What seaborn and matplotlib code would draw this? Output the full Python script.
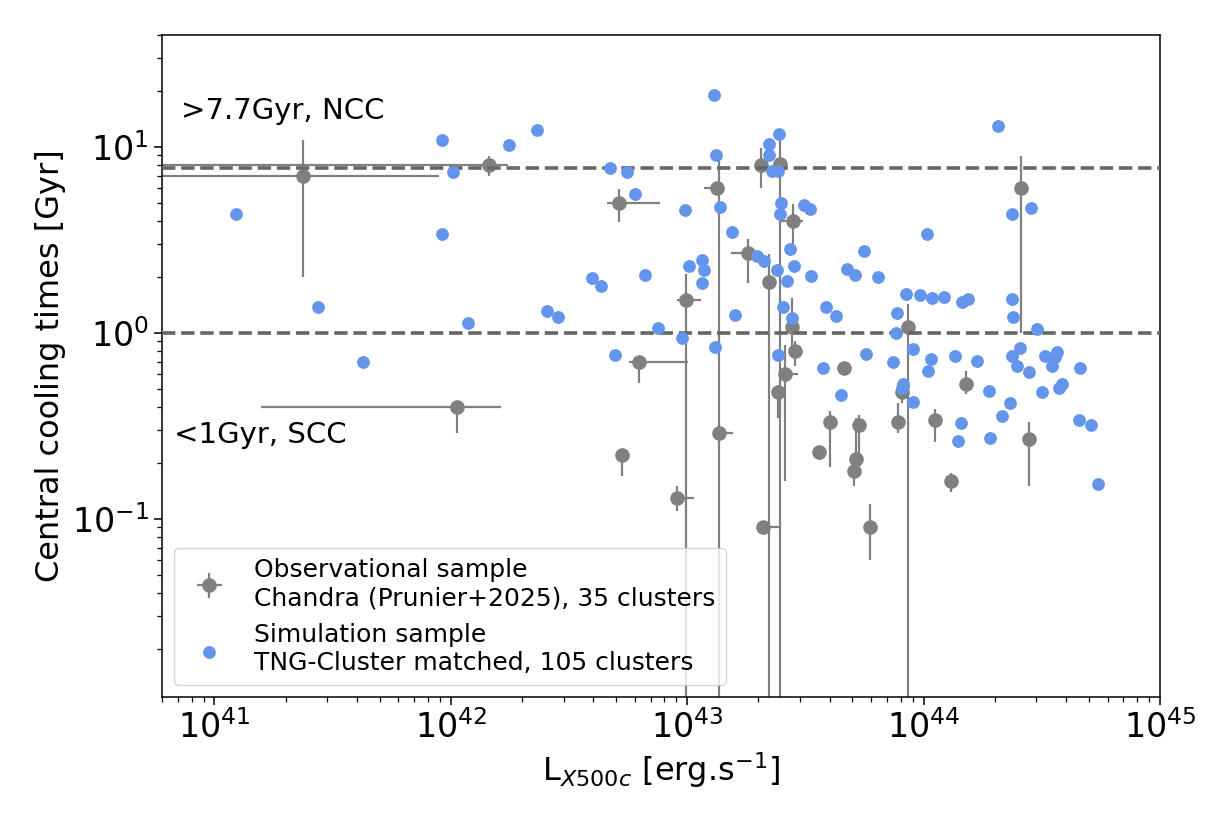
import numpy as np
import pandas as pd
import matplotlib
matplotlib.use("Agg")
import matplotlib.pyplot as plt
import seaborn as sns

# Observational sample (Chandra): L_X500c in 1e42 erg/s, cooling time in Gyr
# errors are given as lower / upper bounds (0 = bound below the plot)
obs_L = [0.237, 1.45, 1.06, 5.15, 5.28, 6.27, 9.07, 9.84, 13.6, 13.4, 18.1, 20.6,
         24.8, 22.1, 21.0, 28.1, 27.7, 28.6, 25.9, 24.1, 45.9, 40.0, 36.2, 53.2,
         51.7, 50.7, 59.3, 77.6, 86.1, 80.9, 112, 131, 151, 279, 258]
obs_L_lo = [0, 0, 0.158, 4.6, 5.28, 5.7, 8.8, 9.06, 13.6, 11.8, 15.3, 20.6,
            24.8, 22.1, 21.0, 25.0, 27.7, 28.6, 25.9, 24.1, 45.9, 40.0, 36.2, 53.2,
            51.7, 50.7, 59.3, 77.6, 86.1, 80.9, 112, 131, 151, 279, 258]
obs_L_hi = [0.89, 1.74, 1.63, 7.67, 5.28, 10.1, 10.7, 11.4, 15.6, 13.4, 19.2, 20.6,
            24.8, 22.1, 24.6, 30.9, 27.7, 28.6, 29.4, 24.1, 45.9, 40.0, 36.2, 53.2,
            51.7, 50.7, 59.3, 77.6, 86.1, 80.9, 112, 131, 151, 279, 258]
obs_t = [6.98, 7.97, 0.40, 4.98, 0.22, 0.70, 0.13, 1.50, 0.29, 6.0, 2.68, 7.97,
         8.07, 1.88, 0.09, 3.98, 1.07, 0.80, 0.60, 0.48, 0.65, 0.33, 0.23, 0.32,
         0.21, 0.18, 0.09, 0.33, 1.07, 0.48, 0.34, 0.16, 0.53, 0.27, 6.0]
obs_t_lo = [2.0, 6.95, 0.29, 3.97, 0.17, 0.54, 0.11, 0, 0, 5.7, 1.86, 6.0,
            0, 0, 0.09, 2.87, 0.75, 0.665, 0.16, 0.35, 0.65, 0.19, 0.23, 0.21,
            0.18, 0.15, 0.06, 0.29, 0, 0.42, 0.26, 0.14, 0.47, 0.15, 1.0]
obs_t_hi = [10.9, 8.9, 0.40, 5.97, 0.22, 0.70, 0.15, 2.07, 9.0, 6.3, 3.21, 9.9,
            11.2, 2.65, 0.09, 4.96, 1.54, 0.90, 0.86, 0.48, 0.65, 0.378, 0.23, 0.36,
            0.35, 0.19, 0.12, 0.417, 1.43, 0.48, 0.39, 0.177, 0.625, 0.33, 8.9]

# Simulation sample (TNG-Cluster matched)
sim_L = [0.123, 0.922, 1.02, 1.77, 2.32, 0.922, 0.274, 1.18, 2.54, 2.85, 0.427,
         13.0, 24.4, 22.2, 13.2, 22.1, 4.72, 5.56, 22.9, 24.1, 5.99, 13.7, 9.8,
         25.0, 24.6, 31.2, 33.0, 15.4, 27.2, 56.2, 19.8, 21.1, 11.5, 11.8, 11.6,
         10.2, 3.94, 4.33, 6.62, 28.3, 23.9, 26.4, 33.3, 47.5, 51.4, 15.9, 25.4,
         27.7, 38.8, 42.4, 7.54, 9.49, 13.1, 4.94, 24.3, 56.9, 37.5, 44.9,
         207, 237, 285, 103, 64.3, 83.9, 96.1, 109, 122, 146, 154, 237, 238, 77.3,
         76.6, 301, 89.8, 74.1, 107, 104, 136, 168, 237, 256, 248, 278, 327, 367,
         361, 349, 460, 80.9, 82.2, 90.0, 373, 384, 318, 189, 233, 214, 453, 512,
         144, 140, 191, 548, 81.5]
sim_t = [4.36, 10.9, 7.31, 10.3, 12.3, 3.42, 1.38, 1.13, 1.31, 1.21, 0.70,
         19.0, 11.8, 10.4, 9.02, 9.06, 7.68, 7.34, 7.43, 7.43, 5.57, 4.76, 4.59,
         4.98, 4.38, 4.90, 4.62, 3.48, 2.82, 2.76, 2.59, 2.42, 2.46, 2.17, 1.85,
         2.29, 1.97, 1.79, 2.04, 2.28, 2.17, 1.90, 2.01, 2.20, 2.05, 1.25, 1.38,
         1.20, 1.38, 1.23, 1.06, 0.936, 0.844, 0.762, 0.759, 0.768, 0.646, 0.462,
         12.9, 4.38, 4.68, 3.39, 2.00, 1.61, 1.59, 1.54, 1.55, 1.46, 1.52, 1.52,
         1.21, 1.28, 1.00, 1.05, 0.817, 0.698, 0.722, 0.625, 0.749, 0.710, 0.752,
         0.828, 0.665, 0.617, 0.752, 0.793, 0.743, 0.667, 0.648, 0.508, 0.534,
         0.424, 0.508, 0.530, 0.482, 0.486, 0.419, 0.358, 0.338, 0.319, 0.327,
         0.263, 0.272, 0.153, 0.52]

thresholds = [7.7, 1.0]

sns.set_style("ticks")
plt.rcParams['font.family'] = ['DejaVu Sans']
plt.rcParams['mathtext.fontset'] = 'dejavusans'
plt.rcParams['axes.edgecolor'] = 'black'
plt.rcParams['text.color'] = 'black'
plt.rcParams['axes.labelcolor'] = 'black'
plt.rcParams['xtick.color'] = 'black'
plt.rcParams['ytick.color'] = 'black'

fig, ax = plt.subplots(figsize=(12.31, 8.21), dpi=100)
fig.subplots_adjust(left=0.1316, right=0.9423, bottom=0.151, top=0.9574)
ax.set_xscale('log')
ax.set_yscale('log')

L = np.array(obs_L) * 1e42
L_lo = np.array(obs_L_lo) * 1e42
L_hi = np.array(obs_L_hi) * 1e42
t = np.array(obs_t)
t_lo = np.array(obs_t_lo)
t_hi = np.array(obs_t_hi)

ax.errorbar(L, t, xerr=[L - L_lo, L_hi - L], yerr=[t - t_lo, t_hi - t],
            fmt='o', color='gray', ms=9.5, elinewidth=1.6, capsize=0,
            label='Observational sample\nChandra (Prunier+2025), 35 clusters', zorder=2)

for y in thresholds:
    ax.axhline(y, ls='--', color='#666666', lw=2.6, zorder=3)

sim = pd.DataFrame({'L': np.array(sim_L) * 1e42, 't': sim_t})
sns.scatterplot(data=sim, x='L', y='t', color='cornflowerblue', s=85, linewidth=0,
                label='Simulation sample\nTNG-Cluster matched, 105 clusters',
                zorder=4, ax=ax)

ax.set_xlim(6e40, 1e45)
ax.set_ylim(0.011, 40)

ax.text(0.019, 0.873, '>7.7Gyr, NCC', transform=ax.transAxes, fontsize=21, va='baseline')
ax.text(0.012, 0.384, '<1Gyr, SCC', transform=ax.transAxes, fontsize=21, va='baseline')

ax.set_xlabel(r'L$_{X500c}$ [erg.s$^{-1}$]', fontsize=23)
ax.set_ylabel('Central cooling times [Gyr]', fontsize=23)
ax.tick_params(axis='both', which='major', labelsize=24, length=6, width=1.1)
ax.tick_params(axis='both', which='minor', length=3.5, width=0.9)
for s in ax.spines.values():
    s.set_visible(True)
    s.set_linewidth(1.1)

handles, labels = ax.get_legend_handles_labels()
order = sorted(range(len(labels)), key=lambda i: not labels[i].startswith('Obs'))
ax.legend([handles[i] for i in order], [labels[i] for i in order],
          loc='lower left', fontsize=18, frameon=True, framealpha=0.8)

fig.savefig('out.png', dpi=100)
